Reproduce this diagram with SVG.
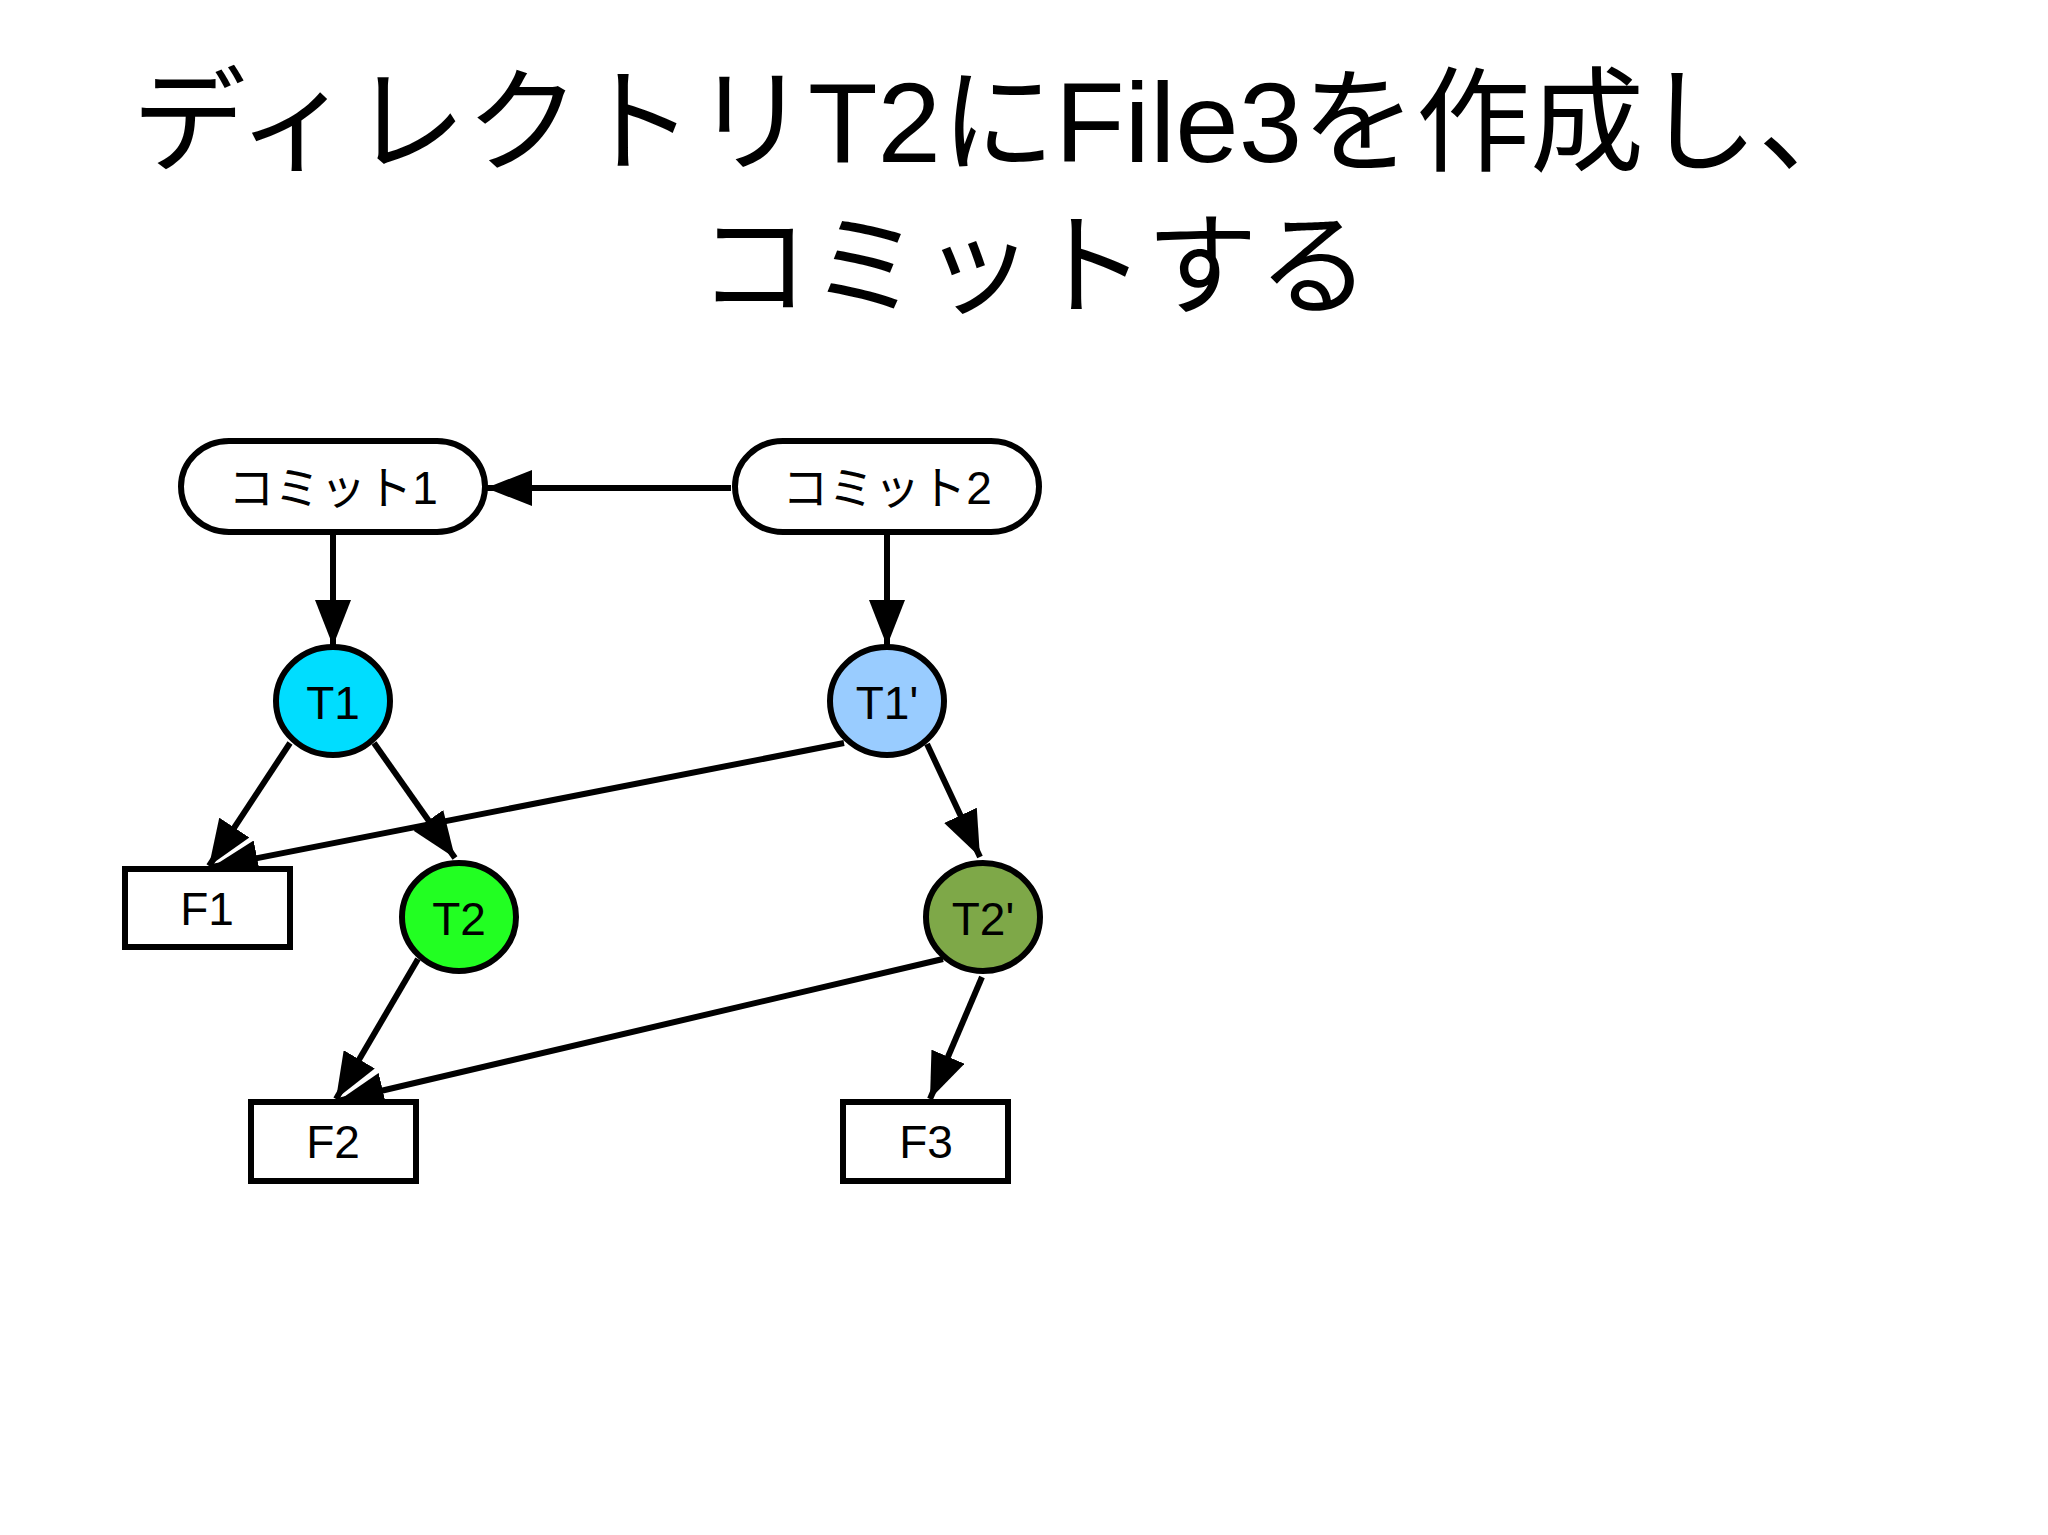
<svg xmlns="http://www.w3.org/2000/svg" width="2048" height="1535" viewBox="0 0 2048 1535">
<style>
.t{font-family:"Liberation Sans","Noto Sans CJK JP",sans-serif;fill:#000}
.n{stroke:#000;stroke-width:6}
.l{font-family:"Liberation Sans","Noto Sans CJK JP",sans-serif;font-size:46px;text-anchor:middle;dominant-baseline:central}
#edges line{stroke:#000;stroke-width:6;marker-end:url(#a)}
</style>
<defs><marker id="a" markerUnits="userSpaceOnUse" markerWidth="48" markerHeight="36" refX="46" refY="18" orient="auto"><path d="M0,0 L46,18 L0,36 Z" fill="#000"/></marker></defs>
<rect width="2048" height="1535" fill="#fff"/>
<text class="t" x="1002" y="162" font-size="114" text-anchor="middle">ディレクトリT2にFile3を作成し、</text>
<text class="t" x="1034" y="306" font-size="112" text-anchor="middle">コミットする</text>
<g id="edges">
<line x1="731" y1="488" x2="486" y2="488"/>
<line x1="333" y1="533" x2="333" y2="646"/>
<line x1="887" y1="533" x2="887" y2="646"/>
<line x1="290" y1="743" x2="209" y2="866"/>
<line x1="374" y1="743" x2="455" y2="858"/>
<line x1="844" y1="743" x2="212" y2="867"/>
<line x1="927" y1="744" x2="980" y2="857"/>
<line x1="418" y1="959" x2="336" y2="1099"/>
<line x1="943" y1="959" x2="338" y2="1101"/>
<line x1="982" y1="977" x2="930" y2="1099"/>
</g>
<g id="commit1"><rect class="n" x="181" y="441" width="304" height="91" rx="48" fill="#fff"/><text class="l" x="333" y="488">コミット1</text></g>
<g id="commit2"><rect class="n" x="735" y="441" width="304" height="91" rx="48" fill="#fff"/><text class="l" x="887" y="488">コミット2</text></g>
<g id="T1"><ellipse class="n" cx="333" cy="701" rx="57" ry="54" fill="#00ddff"/><text class="l" x="333" y="703">T1</text></g>
<g id="T1p"><ellipse class="n" cx="887" cy="701" rx="57" ry="54" fill="#99ccff"/><text class="l" x="887" y="703">T1'</text></g>
<g id="T2"><ellipse class="n" cx="459" cy="917" rx="57" ry="54" fill="#22ff22"/><text class="l" x="459" y="919">T2</text></g>
<g id="T2p"><ellipse class="n" cx="983" cy="917" rx="57" ry="54" fill="#7ea848"/><text class="l" x="983" y="919">T2'</text></g>
<g id="F1"><rect class="n" x="125" y="869" width="165" height="78" fill="#fff"/><text class="l" x="207" y="909">F1</text></g>
<g id="F2"><rect class="n" x="251" y="1102" width="165" height="79" fill="#fff"/><text class="l" x="333" y="1142">F2</text></g>
<g id="F3"><rect class="n" x="843" y="1102" width="165" height="79" fill="#fff"/><text class="l" x="926" y="1142">F3</text></g>
</svg>
